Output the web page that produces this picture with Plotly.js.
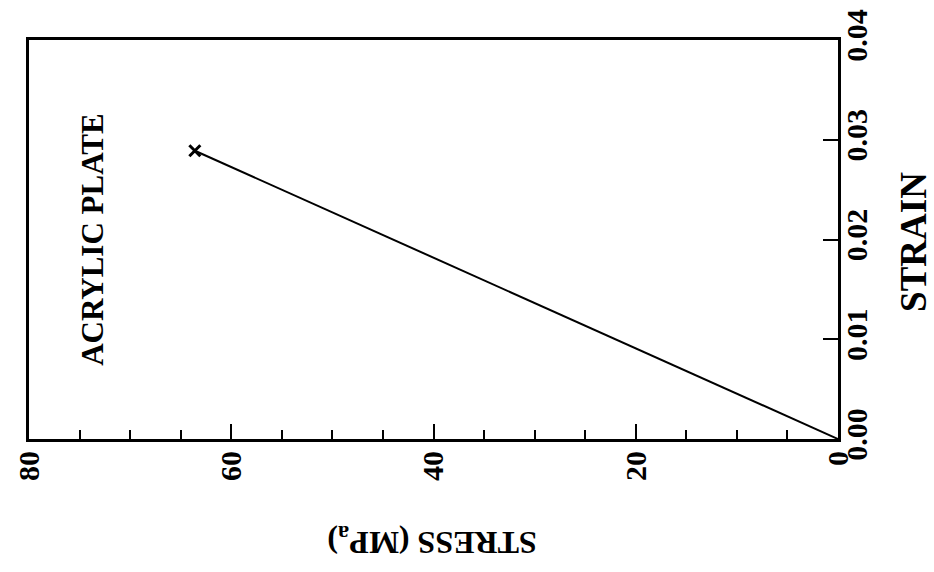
<!DOCTYPE html>
<html>
<head>
<meta charset="utf-8">
<script src="https://cdn.plot.ly/plotly-3.0.1.min.js"></script>
<style>html,body{margin:0;padding:0;background:#fff;}#chart{width:934px;height:572px;}</style>
</head>
<body>
<div id="chart"></div>
<script>
// Data (stress in MPa on the horizontal axis, strain on the vertical axis)
const stress = [0, 63.6];
const strain = [0, 0.0289];
const failStress = [63.6];
const failStrain = [0.0289];
const stressTicks = [0, 20, 40, 60, 80];
const strainTicks = [0, 0.01, 0.02, 0.03, 0.04];
const strainTickText = ["0.00", "0.01", "0.02", "0.03", "0.04"];
const stressTitle = "STRESS (MP<sub>a</sub>)";
const strainTitle = "STRAIN";
const label = "ACRYLIC PLATE";

const FONT = "Liberation Serif, Times New Roman, serif";

const traces = [
  {x: stress, y: strain, mode: "lines", line: {color: "#000", width: 2}, hoverinfo: "skip", showlegend: false},
  {x: failStress, y: failStrain, mode: "markers", marker: {symbol: "x-thin", size: 11, line: {color: "#000", width: 3}, color: "#000"}, showlegend: false}
];

const layout = {
  width: 934, height: 572,
  margin: {l: 29, r: 96, t: 40, b: 133},
  paper_bgcolor: "#fff", plot_bgcolor: "#fff",
  font: {family: FONT, color: "#000", size: 30, weight: "bold"},
  showlegend: false,
  xaxis: {
    range: [80, 0], autorange: false, automargin: false,
    tickmode: "array", tickvals: stressTicks,
    ticks: "inside", ticklen: 15, tickwidth: 2, tickcolor: "#000",
    minor: {dtick: 5, tick0: 0, ticks: "inside", ticklen: 9, tickwidth: 2, tickcolor: "#000", showgrid: false},
    tickangle: -90, ticklabelstandoff: -3,
    tickfont: {family: FONT, size: 30, color: "#000", weight: "bold"},
    showline: true, linecolor: "#000", linewidth: 3, mirror: true,
    showgrid: false, zeroline: false
  },
  yaxis: {
    range: [0, 0.04], autorange: false, automargin: false, side: "right",
    tickmode: "array", tickvals: strainTicks, ticktext: strainTickText,
    ticks: "inside", ticklen: 15, tickwidth: 2, tickcolor: "#000",
    tickangle: -90, ticklabelstandoff: -10,
    tickfont: {family: FONT, size: 30, color: "#000", weight: "bold"},
    showline: true, linecolor: "#000", linewidth: 3, mirror: true,
    showgrid: false, zeroline: false
  },
  annotations: [
    {text: stressTitle, xref: "paper", yref: "paper", x: 0.498, y: -0.256, showarrow: false,
     textangle: 180, xanchor: "center", yanchor: "middle",
     font: {family: FONT, size: 32, color: "#000", weight: "bold"}},
    {text: strainTitle, xref: "paper", yref: "paper", x: 1.094, y: 0.494, showarrow: false,
     textangle: -90, xanchor: "center", yanchor: "middle",
     font: {family: FONT, size: 37, color: "#000", weight: "bold"}},
    {text: label, xref: "paper", yref: "paper", x: 0.079, y: 0.499, showarrow: false,
     textangle: -90, xanchor: "center", yanchor: "middle",
     font: {family: FONT, size: 31, color: "#000", weight: "bold"}}
  ]
};

Plotly.newPlot("chart", traces, layout, {staticPlot: true, displayModeBar: false});
</script>
</body>
</html>
